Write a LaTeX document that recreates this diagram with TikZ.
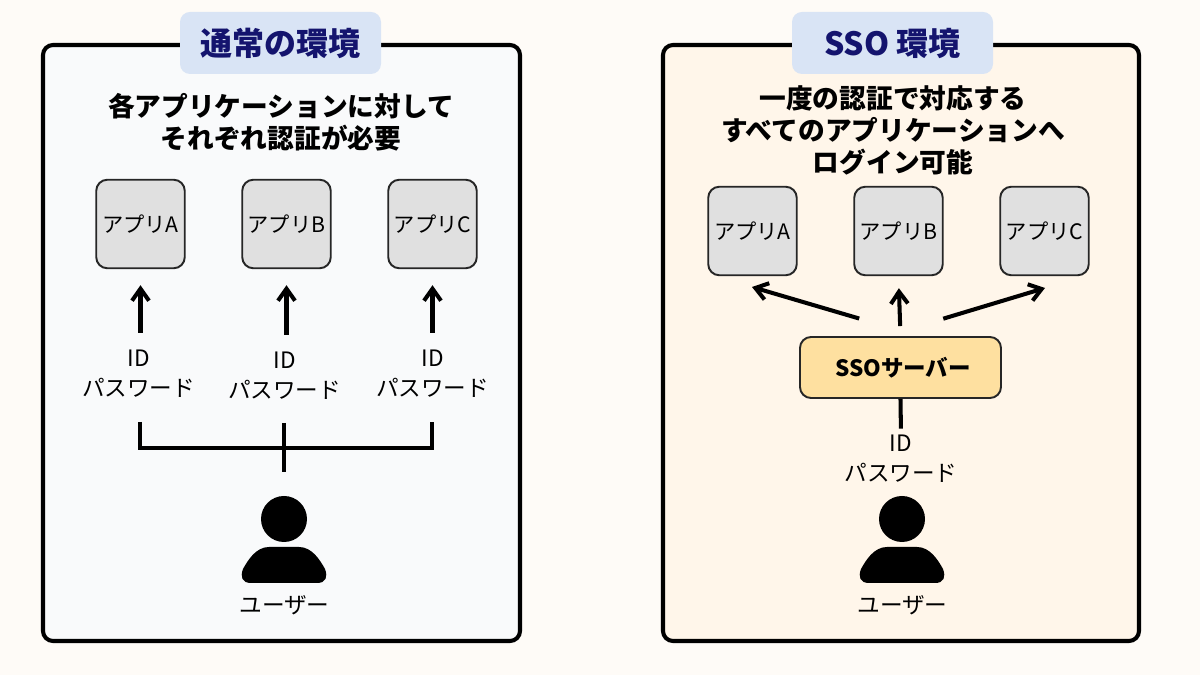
\documentclass[tikz,border=0pt]{standalone}
\usepackage{fontspec}
\setmainfont{Noto Sans CJK JP}
\usetikzlibrary{arrows.meta}
\definecolor{pagebg}{HTML}{FEFBF7}
\definecolor{panelL}{HTML}{F9FAFB}
\definecolor{panelR}{HTML}{FFF6EA}
\definecolor{titlebg}{HTML}{D9E4F5}
\definecolor{titleink}{HTML}{14146E}
\definecolor{appbg}{HTML}{E0E0E0}
\definecolor{ssobg}{HTML}{FEE0A0}
\tikzset{
  panel/.style={draw=black, line width=1.15pt, rounded corners=1mm},
  titlebox/.style={fill=titlebg, rounded corners=1mm, minimum width=2.01cm, minimum height=0.62cm,
    text=titleink, font=\fontsize{9.1}{11}\selectfont\bfseries},
  headline/.style={align=center, font=\fontsize{7.6}{9.1}\selectfont\bfseries},
  appbox/.style={draw=black!85, fill=appbg, line width=0.55pt, rounded corners=1.1mm,
    minimum width=0.885cm, minimum height=0.885cm, inner sep=0pt, font=\fontsize{6.05}{7}\selectfont},
  idlabel/.style={align=center, inner sep=0pt, font=\fontsize{6.43}{8.5}\selectfont},
  userlabel/.style={inner sep=0pt, font=\fontsize{6.45}{8}\selectfont},
  ssobox/.style={draw=black!85, fill=ssobg, line width=0.55pt, rounded corners=1.1mm,
    minimum width=2.01cm, minimum height=0.61cm, inner sep=0pt, font=\fontsize{6.4}{7}\selectfont\bfseries},
  flow/.style={line width=1.15pt, -{Straight Barb[length=1.2mm,width=1.7mm]}},
  wire/.style={line width=1.15pt},
  person/.pic={
    \fill (0,0.56) circle [radius=0.23];
    \fill (-0.15,0.28) .. controls (-0.28,0.28) and (-0.36,0.15) .. (-0.41,0.06)
      .. controls (-0.44,-0.02) and (-0.42,-0.08) .. (-0.33,-0.08) -- (0.33,-0.08)
      .. controls (0.42,-0.08) and (0.44,-0.02) .. (0.41,0.06)
      .. controls (0.36,0.15) and (0.28,0.28) .. (0.15,0.28) -- cycle;
  }
}
\begin{document}
\begin{tikzpicture}
\useasboundingbox (0,0) rectangle (12,6.75);
\fill[pagebg] (0,0) rectangle (12,6.75);
% panels
\draw[panel, fill=panelL] (0.43,0.34) rectangle (5.20,6.30);
\draw[panel, fill=panelR] (6.63,0.34) rectangle (11.39,6.30);
\node[titlebox] (titleL) at (2.805,6.32) {通常の環境};
\node[titlebox] (titleR) at (8.925,6.32) {SSO 環境};
\node[headline] (headL) at (2.81,5.525) {各アプリケーションに対して\\それぞれ認証が必要};
\node[headline] (headR) at (8.93,5.45) {一度の認証で対応する\\すべてのアプリケーションへ\\ログイン可能};
% application boxes
\foreach \n/\x/\t in {A/1.405/A,B/2.865/B,C/4.325/C}
  \node[appbox] (appL\n) at (\x,4.51) {アプリ\t};
\foreach \n/\x/\t in {A/7.525/A,B/8.985/B,C/10.445/C}
  \node[appbox] (appR\n) at (\x,4.44) {アプリ\t};
% left side
\node[idlabel] (idA) at (1.385,3.01) {ID\\パスワード};
\node[idlabel] (idB) at (2.845,2.99) {ID\\パスワード};
\node[idlabel] (idC) at (4.325,3.01) {ID\\パスワード};
\foreach \n in {A,B,C}
  \draw[flow, shorten <=0.17cm, shorten >=0.16cm] (id\n.north -| appL\n.south) -- (appL\n.south);
\coordinate (forkA) at (1.40,2.53);
\coordinate (forkC) at (4.32,2.53);
\coordinate (forkB) at (2.84,2.52);
\coordinate (forkD) at (2.84,2.03);
\draw[wire] (forkA) -- ++(0,-0.26) -| (forkC);
\draw[wire] (forkB) -- (forkD);
\pic at (2.84,1.00) {person};
\node[userlabel] (userL) at (2.845,0.70) {ユーザー};
% right side
\node[ssobox] (sso) at (9.005,3.075) {\hspace*{0.05cm}SSOサーバー};
\node[idlabel] (idS) at (9.01,2.16) {ID\\パスワード};
\coordinate (tipA) at (7.52,3.88);
\coordinate (tipC) at (10.45,3.87);
\draw[flow, shorten <=0.62cm] (sso.60) -- (tipA);
\draw[flow, shorten <=0.10cm, shorten >=0.12cm] (sso.north) -- (appRB.south);
\draw[flow, shorten <=0.60cm] (sso.115) -- (tipC);
\draw[wire, shorten >=0.06cm] (sso.south) -- (idS.north);
\pic at (9.02,1.00) {person};
\node[userlabel] (userR) at (9.025,0.70) {ユーザー};
\end{tikzpicture}
\end{document}
